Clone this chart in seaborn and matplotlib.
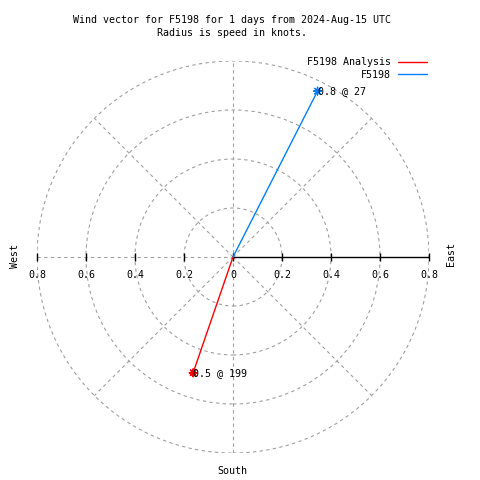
import numpy as np
import pandas as pd
import matplotlib
matplotlib.use("Agg")
import matplotlib.pyplot as plt
from matplotlib.patches import Circle
import seaborn as sns

# ---- data ----
series = ["F5198 Analysis", "F5198"]
directions = [199, 27]          # degrees (compass)
speeds = [0.5, 0.76]            # knots
colors = ["#ff0000", "#0080ff"]
ring_values = [0.2, 0.4, 0.6, 0.8]
tick_values = [0.8, 0.6, 0.4, 0.2, 0, 0.2, 0.4, 0.6, 0.8]
title_lines = ["Wind vector for F5198 for 1 days from 2024-Aug-15 UTC",
               "Radius is speed in knots."]

sns.set_style("white")
FONT = ["DejaVu Sans Mono"]
plt.rcParams["font.family"] = FONT
plt.rcParams["text.color"] = "black"
FS = 7.2

fig = plt.figure(figsize=(4.8, 4.8), dpi=100)
W = H = 480.0
cx, cy, R = 233.0, 257.0, 196.0
ax = fig.add_axes([(cx - R) / W, (H - cy - R) / H, 2 * R / W, 2 * R / H])
rmax = max(ring_values)
ax.set_xlim(-rmax, rmax)
ax.set_ylim(-rmax, rmax)
ax.set_aspect("equal")
ax.axis("off")

grid_kw = dict(color="#a0a0a0", lw=0.8, ls=(0, (3, 3)))
for r in ring_values:
    ax.add_patch(Circle((0, 0), r, fill=False, **grid_kw))
for ang in [45, 135, 225, 315]:
    a = np.deg2rad(ang)
    ax.plot([0, rmax * np.cos(a)], [0, rmax * np.sin(a)], **grid_kw)
ax.plot([0, 0], [-rmax, rmax], **grid_kw)
ax.plot([-rmax, 0], [0, 0], **grid_kw)
ax.plot([0, rmax], [0, 0], color="black", lw=1.0)

tick_pos = np.linspace(-rmax, rmax, len(tick_values))
ax.plot(tick_pos, np.zeros_like(tick_pos), ls="", marker="|", ms=6, mew=1.0,
        color="black", clip_on=False)
for p, v in zip(tick_pos, tick_values):
    lab = "0" if v == 0 else f"{v:.1f}"
    ax.annotate(lab, (p, 0), xytext=(0, -18), textcoords="offset pixels",
                ha="center", va="center", fontsize=FS, family=FONT, color="black")

# vectors
rows = []
for s_name, d, sp in zip(series, directions, speeds):
    a = np.deg2rad(d)
    rows.append(dict(series=s_name, x=0.0, y=0.0, order=0))
    rows.append(dict(series=s_name, x=sp * np.sin(a), y=sp * np.cos(a), order=1))
df = pd.DataFrame(rows)
sns.lineplot(data=df, x="x", y="y", hue="series", hue_order=series,
             palette=colors, sort=False, estimator=None, lw=1.0, ax=ax)
ends = df[df["order"] == 1]
sns.scatterplot(data=ends, x="x", y="y", hue="series", hue_order=series,
                palette=colors, marker=(8, 2, 0), s=30, linewidth=1.0,
                legend=False, ax=ax, clip_on=False)
for _, row in ends.iterrows():
    d = directions[series.index(row["series"])]
    sp = speeds[series.index(row["series"])]
    ax.annotate(f"{sp:.1f} @ {d}", (row["x"], row["y"]), xytext=(0, 0),
                textcoords="offset pixels", ha="left", va="center",
                fontsize=FS, family=FONT, color="black")

handles, labels = ax.get_legend_handles_labels()
leg = ax.legend(handles, labels, loc="upper right", bbox_to_anchor=(427 / W, 1 - 57 / H),
                bbox_transform=fig.transFigure, frameon=False, markerfirst=False,
                handlelength=2.9, handletextpad=0.7, labelspacing=0.25,
                borderpad=0, borderaxespad=0, prop=dict(family=FONT, size=FS))
for t in leg.get_texts():
    t.set_color("black")

fig.text(232 / W, 1 - 20 / H, title_lines[0], ha="center", va="center", fontsize=FS)
fig.text(232 / W, 1 - 33 / H, title_lines[1], ha="center", va="center", fontsize=FS)
fig.text(15 / W, 1 - 256 / H, "West", rotation=90, ha="center", va="center", fontsize=FS)
fig.text(451 / W, 1 - 254 / H, "East", rotation=90, ha="center", va="center", fontsize=FS)
fig.text(232 / W, 1 - 471 / H, "South", ha="center", va="center", fontsize=FS)

fig.savefig("out.png", dpi=100)
